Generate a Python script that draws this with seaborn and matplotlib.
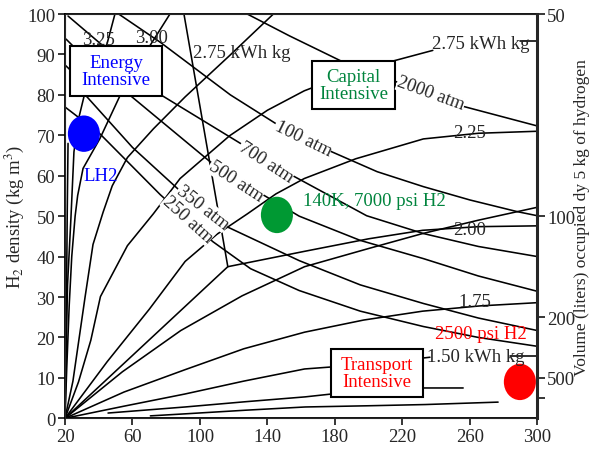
import matplotlib
matplotlib.use("Agg")
import matplotlib.pyplot as plt
from matplotlib.patches import Ellipse, Rectangle
import numpy as np
import pandas as pd
import seaborn as sns

# ---- curves (temperature K, density kg/m3) ----
# energy lines (fan out of the lower-left corner)
e150_x = [20, 55, 91, 126, 162, 178, 205, 232, 236.3]
e150_y = [0, 3.0, 6.0, 9.2, 12.2, 12.7, 14.0, 14.9, 15.1]
e150_tail_x = [283.7, 300]
e150_tail_y = [15.4, 15.4]
e175_x = [20, 55, 91, 126, 162, 197, 232, 266, 300]
e175_y = [0, 6.5, 12.0, 17.2, 21.3, 24.3, 26.5, 27.8, 28.6]
eA_x = [20, 54, 88.6, 125, 162, 200, 232, 265, 300]
eA_y = [0, 11.5, 21.7, 30.3, 37.5, 42.0, 45.7, 49.0, 52.2]
kink_x = [90.5, 116.5, 20]
kink_y = [100, 37.5, 0]
e200_x = [116.5, 162, 200, 232, 265, 300]
e200_y = [37.5, 41.3, 44.4, 46.5, 47.4, 47.6]
e225_x = [20, 45, 70, 91.2, 110, 128.2, 145, 161.8, 192.4, 232.4, 265, 300]
e225_y = [0, 14, 27, 38.8, 45.5, 50.6, 55.5, 59.3, 64.2, 69.1, 70.5, 71.0]
e275_x = [20, 28, 35.3, 41, 57, 72.4, 88.2, 117.6, 140, 161.8, 190, 214.7, 238]
e275_y = [0, 9, 19.3, 30.1, 42.7, 50.6, 59.3, 69.9, 76.2, 81, 85.5, 88.4, 91]
e275_tail_x = [289.6, 300]
e275_tail_y = [93.2, 93.2]
g1_x = [20, 24.7, 31.9, 36.6, 42.6, 48, 57, 72.4, 91.2, 117, 143.5]
g1_y = [0, 9.2, 30, 43, 51, 57.5, 64.5, 71.6, 79.5, 89.5, 100]
e325_x = [20, 20.6, 21.5, 23.5, 25.3, 28, 31.2, 38, 44.9, 49.6]
e325_y = [0, 15, 33, 49.4, 65.9, 74, 79.5, 87, 92.6, 100]
e300_x = [20, 21, 22.5, 24, 26, 27.5, 30.7, 40.7, 52.6, 62, 70.4, 82.2]
e300_y = [0, 12, 28, 40, 50, 55.1, 61.8, 69.2, 79.8, 87, 92.2, 100]
ea_x = [20, 20.8, 21.3, 21.8]
ea_y = [0, 25, 50, 68]
low1_x = [45.5, 91.2, 127, 162.4, 177.8, 205, 232.3, 256]
low1_y = [1.3, 2.8, 4.1, 5.3, 6.0, 6.9, 7.5, 7.5]
low2_x = [70.6, 91.2, 127, 162.4, 200, 233.5, 276.7]
low2_y = [0.6, 1.1, 2.0, 2.8, 3.1, 3.4, 4.0]

# pressure lines
p2000_x = [128, 153, 183.5, 214.7, 254.7, 300]
p2000_y = [100, 94.6, 88.4, 83.5, 77.3, 72.3]
p100_x = [51.8, 76.5, 91.2, 118, 145.3, 178.2, 205, 232.4, 260, 288.2, 300]
p100_y = [100, 93, 88.4, 80, 72.8, 65.9, 61, 57.3, 54, 51.1, 50.1]
p700_x = [21.8, 41.2, 77.6, 122.4, 155.9, 198.8, 232.4, 265, 300]
p700_y = [99.5, 92.6, 79.8, 68.4, 59.8, 50.1, 45.7, 42.5, 40]
p500_x = [20.6, 24.7, 58.8, 105.9, 136.5, 158.8, 195, 232.4, 265, 300]
p500_y = [93.8, 92.1, 79.8, 63.5, 55.5, 50, 44, 39.5, 35.2, 31.4]
p350_x = [20, 23.5, 32.4, 60, 91.2, 115.9, 158.8, 195, 232.4, 265, 300]
p350_y = [87.4, 86, 79.8, 67, 55.1, 47.4, 39, 33, 28.4, 24.8, 21.7]
p250_x = [20, 40.6, 76.5, 107.6, 130, 158.8, 195, 232.4, 265, 300]
p250_y = [77, 70.4, 55.3, 43.7, 37, 31.6, 26.5, 22.7, 20, 17.8]

# storage points
pt_temp = [31.2, 145.6, 289.6]
pt_dens = [70.4, 50.3, 9.0]
pt_colors = ["#0000ff", "#009933", "#ff0000"]

# right axis: volume of 5 kg of hydrogen
vol_ticks = [50, 100, 200, 500, 1000]
vol_labels = ["50", "100", "200", "500", ""]

curves = {
    "e150": (e150_x, e150_y), "e150t": (e150_tail_x, e150_tail_y),
    "e175": (e175_x, e175_y), "eA": (eA_x, eA_y), "kink": (kink_x, kink_y),
    "e200": (e200_x, e200_y), "e225": (e225_x, e225_y),
    "e275": (e275_x, e275_y), "e275t": (e275_tail_x, e275_tail_y),
    "g1": (g1_x, g1_y), "e325": (e325_x, e325_y), "e300": (e300_x, e300_y),
    "ea": (ea_x, ea_y), "low1": (low1_x, low1_y), "low2": (low2_x, low2_y),
    "p2000": (p2000_x, p2000_y), "p100": (p100_x, p100_y),
    "p700": (p700_x, p700_y), "p500": (p500_x, p500_y),
    "p350": (p350_x, p350_y), "p250": (p250_x, p250_y),
}
rows = []
for name, (xs, ys) in curves.items():
    for i, (a, b) in enumerate(zip(xs, ys)):
        rows.append((name, i, a, b))
df = pd.DataFrame(rows, columns=["curve", "order", "T", "rho"])

sns.set_style("white")
plt.rcParams["font.family"] = ["Liberation Serif", "DejaVu Serif"]
plt.rcParams["mathtext.fontset"] = "stix"

fig = plt.figure(figsize=(5.92, 4.56), dpi=100)
ax = fig.add_axes([0.1098, 0.0805, 0.798, 0.8866])

sns.lineplot(data=df, x="T", y="rho", units="curve", estimator=None, sort=False,
             color="black", lw=1.15, ax=ax, legend=False, zorder=2)

for t, d, c in zip(pt_temp, pt_dens, pt_colors):
    ax.add_patch(Ellipse((t, d), 19, 9, facecolor=c, edgecolor="none",
                         zorder=3, clip_on=False))

fs = 13.5

# boxes
boxes = [((23, 79.6), 54.5, 12.4, "Energy\nIntensive", "#0000ff"),
         ((166.4, 76.5), 49.2, 11.9, "Capital\nIntensive", "#00843d"),
         ((177.6, 5.3), 54.5, 11.9, "Transport\nIntensive", "#ff0000")]
for (x0, y0), w, h, txt, col in boxes:
    ax.add_patch(Rectangle((x0, y0), w, h, facecolor="white", edgecolor="black",
                           lw=1.5, zorder=4))
    ax.text(x0 + w / 2, y0 + h / 2, txt, color=col, fontsize=fs, ha="center",
            va="center", linespacing=1.0, zorder=5)

ax.text(30.7, 60, "LH2", color="#0000ff", fontsize=fs, va="center", zorder=5)
ax.text(161, 53.8, "140K, 7000 psi H2", color="#00843d", fontsize=fs, va="center", zorder=5)
ax.text(239.3, 20.9, "2500 psi H2", color="#ff0000", fontsize=fs, va="center", zorder=5)

for x, y, s in [(39.6, 93.8, "3.25"), (71.1, 94.1, "3.00"), (259.8, 70.6, "2.25"),
                (259.8, 46.8, "2.00"), (262.9, 28.8, "1.75")]:
    ax.text(x, y, s, fontsize=fs, ha="center", va="center", zorder=5)
ax.text(95.9, 90.6, "2.75 kWh kg", fontsize=fs, va="center", zorder=5)
ax.text(237.5, 92.7, "2.75 kWh kg", fontsize=fs, va="center", zorder=5)
ax.text(234.5, 15.4, "1.50 kWh kg", fontsize=fs, va="center", zorder=5)

wbox = dict(facecolor="white", edgecolor="none", pad=0.3)
for x, y, s, r in [(236.9, 80.4, "2000 atm", -20), (161, 69.3, "100 atm", -26),
                   (139.1, 63.4, "700 atm", -33), (121.3, 58.7, "500 atm", -33),
                   (101.8, 52.2, "350 atm", -38), (92.9, 49.3, "250 atm", -42)]:
    ax.text(x, y, s, fontsize=fs, ha="center", va="center", rotation=r,
            rotation_mode="anchor", bbox=wbox, zorder=4.5)

ax.set_xlim(20, 300)
ax.set_ylim(0, 100)
ax.set_xticks(np.arange(20, 301, 40))
ax.set_yticks(np.arange(0, 101, 10))
ax.set_xlabel("")
ax.set_ylabel("H$_2$ density (kg m$^3$)", fontsize=fs, labelpad=1)
ax.tick_params(direction="out", length=5, width=1.3, labelsize=fs, pad=2,
               left=True, bottom=True)
for sp in ax.spines.values():
    sp.set_linewidth(1.3)
    sp.set_color("black")

ax2 = ax.twinx()
ax2.set_ylim(0, 100)
ax2.set_yticks([5000 / v for v in vol_ticks])
ax2.set_yticklabels(vol_labels)
ax2.tick_params(direction="out", length=6, width=1.3, labelsize=fs, pad=1, right=True)
ax2.spines["right"].set_linewidth(2.2)
ax2.set_ylabel("Volume (liters) occupied dy 5 kg of hydrogen", fontsize=12.5, labelpad=-1)

fig.savefig("out.png", dpi=100)
